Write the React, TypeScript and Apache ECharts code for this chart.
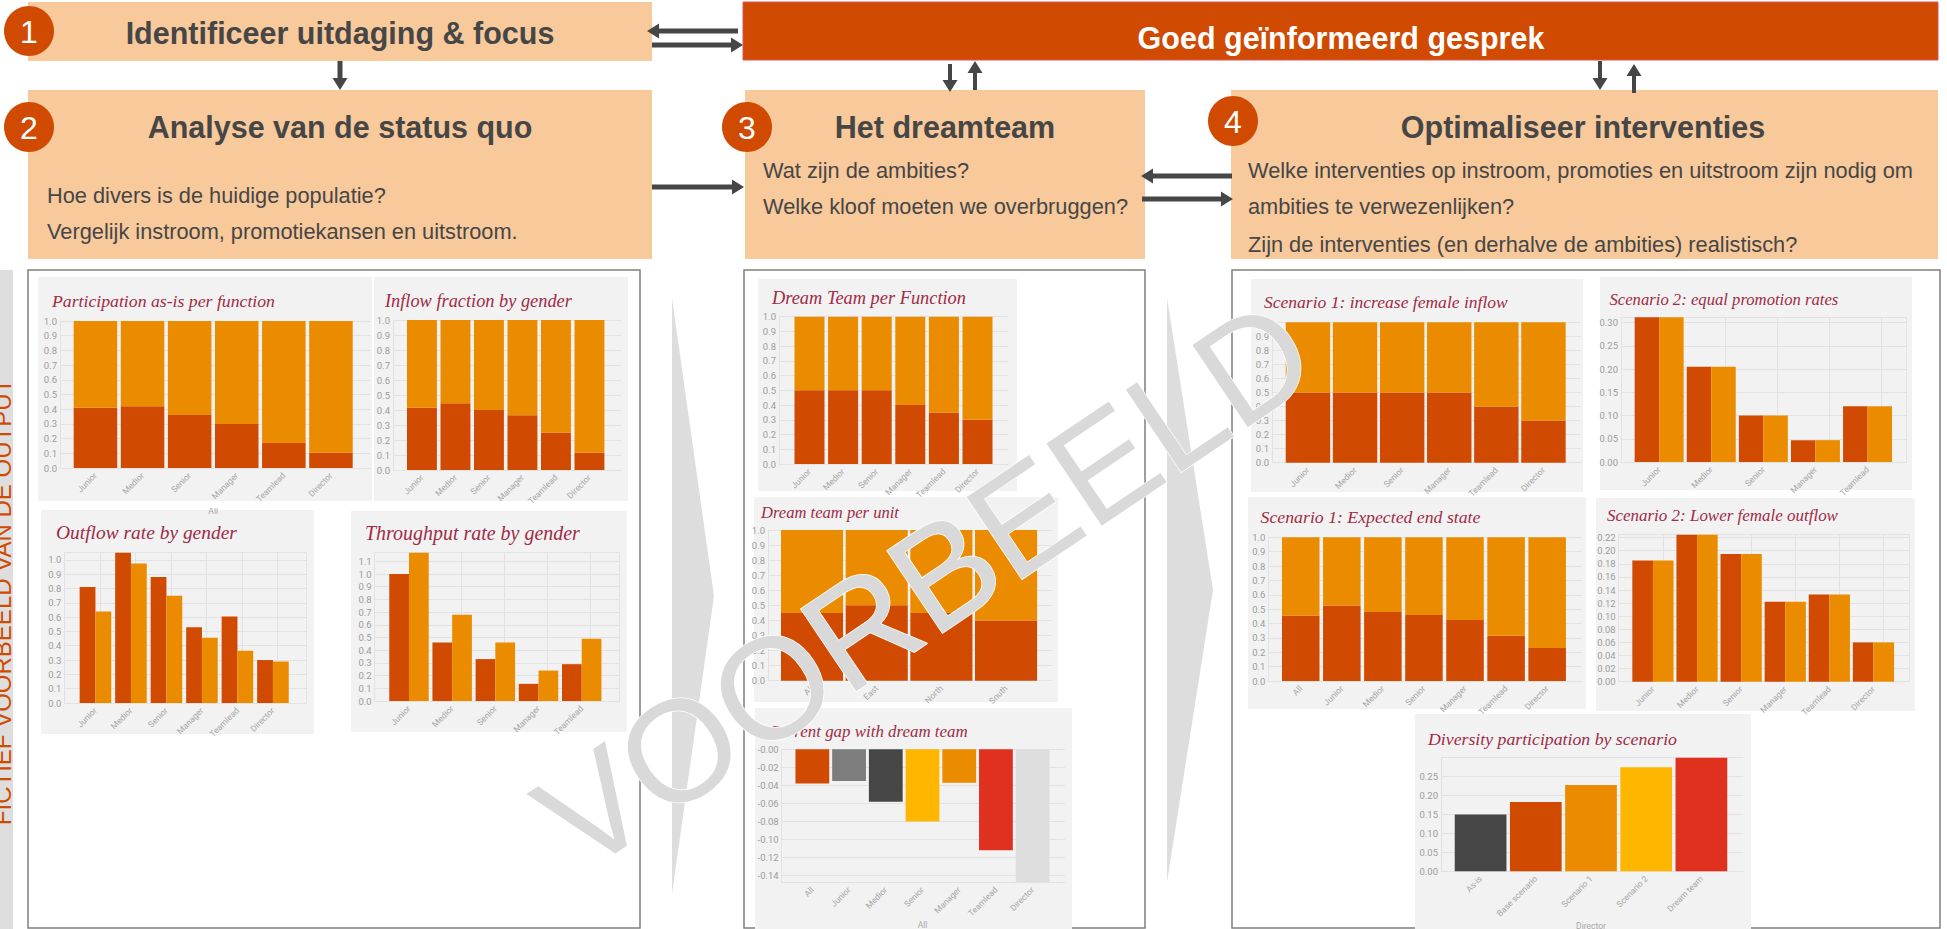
import React, { useEffect, useRef } from "react";
import * as echarts from "echarts";

const DARK = "#D04A02";
const ORANGE = "#EB8C00";
const YELLOW = "#FFB600";
const RED = "#E0301E";
const GREY = "#464646";
const MID = "#7D7D7D";
const LIGHT = "#DEDEDE";
const PEACH = "#F8C99B";
const PANEL = "#F2F2F2";
const ROSE = "#A02B45";

const functions6 = ["Junior", "Medior", "Senior", "Manager", "Teamlead", "Director"];
const functions5 = ["Junior", "Medior", "Senior", "Manager", "Teamlead"];
const functionsAll = ["All", "Junior", "Medior", "Senior", "Manager", "Teamlead", "Director"];
const units = ["All", "East", "North", "South"];
const scenarios = ["As-is", "Base scenario", "Scenario 1", "Scenario 2", "Dream team"];

const participationF = [0.41, 0.42, 0.36, 0.3, 0.17, 0.105];
const participationM = [0.59, 0.58, 0.64, 0.7, 0.83, 0.895];
const inflowF = [0.415, 0.445, 0.4, 0.365, 0.25, 0.115];
const inflowM = [0.585, 0.555, 0.6, 0.635, 0.75, 0.885];
const outflowF = [0.81, 1.05, 0.88, 0.53, 0.605, 0.3];
const outflowM = [0.64, 0.975, 0.75, 0.455, 0.365, 0.29];
const throughputF = [1.0, 0.46, 0.33, 0.135, 0.29];
const throughputM = [1.168, 0.68, 0.46, 0.24, 0.49];
const dreamFunctionF = [0.5, 0.5, 0.5, 0.4, 0.35, 0.3];
const dreamFunctionM = [0.5, 0.5, 0.5, 0.6, 0.65, 0.7];
const dreamUnitF = [0.45, 0.5, 0.45, 0.4];
const dreamUnitM = [0.55, 0.5, 0.55, 0.6];
const gapValues = [-0.038, -0.035, -0.058, -0.08, -0.037, -0.112, -0.1474];
const inflowScenarioF = [0.5, 0.5, 0.5, 0.5, 0.4, 0.3];
const inflowScenarioM = [0.5, 0.5, 0.5, 0.5, 0.6, 0.7];
const promotionF = [0.3115, 0.205, 0.1, 0.047, 0.12];
const promotionM = [0.3115, 0.205, 0.1, 0.047, 0.12];
const endStateF = [0.455, 0.525, 0.48, 0.46, 0.425, 0.315, 0.23];
const endStateM = [0.545, 0.475, 0.52, 0.54, 0.575, 0.685, 0.77];
const lowerOutflowF = [0.185, 0.2245, 0.195, 0.122, 0.133, 0.06];
const lowerOutflowM = [0.185, 0.2245, 0.195, 0.122, 0.133, 0.06];
const diversityValues = [0.15, 0.183, 0.228, 0.275, 0.3];

const gapColors = [DARK, MID, GREY, YELLOW, ORANGE, RED, LIGHT];
const diversityColors = [GREY, DARK, ORANGE, YELLOW, RED];

const SANS = '"Liberation Sans", Arial, sans-serif';
const SERIF = '"Liberation Serif", Georgia, serif';
const AXISFONT = "Roboto, sans-serif";

function fit(text: string, target: number, font: string) {
  const ctx = document.createElement("canvas").getContext("2d")!;
  ctx.font = font.replace("SIZE", "100px");
  return (100 * target) / ctx.measureText(text).width;
}

type Panel = {
  bg: number[];
  title: string;
  tx: number;
  ty: number;
  tw: number;
  grid: number[];
  band: number[];
  cats: string[];
  mode: "stack" | "group" | "single";
  a: number[];
  b?: number[];
  colors?: string[];
  min?: number;
  max: number;
  interval?: number;
  digits: number;
  gap: string;
  vStep?: number;
  name?: string;
  nameGap?: number;
  hideMax?: boolean;
  labelFmt?: (v: number) => string;
};

const panels: Panel[] = [
  { bg: [38, 277, 372, 501], title: "Participation as-is per function", tx: 52, ty: 303, tw: 223, grid: [60, 321, 370, 468], band: [71.9, 354.5], cats: functions6, mode: "stack", a: participationF, b: participationM, max: 1, interval: 0.1, digits: 1, gap: "7.6%", name: "All", nameGap: 24 },
  { bg: [374, 277, 628, 501], title: "Inflow fraction by gender", tx: 385, ty: 303, tw: 187, grid: [393, 320, 621, 470], band: [405.2, 606.2], cats: functions6, mode: "stack", a: inflowF, b: inflowM, max: 1, interval: 0.1, digits: 1, gap: "10.7%" },
  { bg: [41, 510, 314, 734], title: "Outflow rate by gender", tx: 56, ty: 535, tw: 181, grid: [64.4, 552.7, 306, 703], band: [77.7, 290.7], cats: functions6, mode: "group", a: outflowF, b: outflowM, max: 1.05, interval: 0.1, digits: 1, gap: "11%", vStep: 35.5, hideMax: true },
  { bg: [351, 511, 627, 732], title: "Throughput rate by gender", tx: 365, ty: 535, tw: 215, grid: [374.6, 552.7, 619.5, 701], band: [387.4, 603.3], cats: functions5, mode: "group", a: throughputF, b: throughputM, max: 1.168, interval: 0.1, digits: 1, gap: "8.6%", vStep: 43.1, hideMax: true },

  { bg: [758, 279, 1017, 491], title: "Dream Team per Function", tx: 772, ty: 300, tw: 194, grid: [779, 316.7, 1008, 464], band: [792.7, 994.3], cats: functions6, mode: "stack", a: dreamFunctionF, b: dreamFunctionM, max: 1, interval: 0.1, digits: 1, gap: "10.7%" },
  { bg: [754, 497, 1058, 702], title: "Dream team per unit", tx: 761, ty: 514, tw: 138, grid: [768, 530, 1052, 680.7], band: [779.7, 1038.4], cats: units, mode: "stack", a: dreamUnitF, b: dreamUnitM, max: 1, interval: 0.1, digits: 1, gap: "4%" },
  { bg: [755, 708, 1072, 929], title: "Current gap with dream team", tx: 768, ty: 733, tw: 200, grid: [781.7, 749.3, 1065, 882.3], band: [794, 1051], cats: functionsAll, mode: "single", a: gapValues, colors: gapColors, min: -0.1474, max: 0, digits: 2, gap: "8%", name: "All", nameGap: 24, labelFmt: (v) => (v === 0 ? "-0.00" : v.toFixed(2)) },

  { bg: [1251, 279, 1583, 492], title: "Scenario 1: increase female inflow", tx: 1264, ty: 304, tw: 244, grid: [1272, 322.3, 1581, 462.7], band: [1284.4, 1567], cats: functions6, mode: "stack", a: inflowScenarioF, b: inflowScenarioM, max: 1, interval: 0.1, digits: 1, gap: "5.7%" },
  { bg: [1600, 277, 1912, 490], title: "Scenario 2: equal promotion rates", tx: 1609.5, ty: 301, tw: 229, grid: [1621, 317.3, 1906.7, 462], band: [1633.1, 1893.6], cats: functions5, mode: "group", a: promotionF, b: promotionM, max: 0.3115, interval: 0.05, digits: 2, gap: "6%", vStep: 52.1, hideMax: true },
  { bg: [1248, 497, 1586, 709], title: "Scenario 1: Expected end state", tx: 1260.6, ty: 519, tw: 220, grid: [1268.4, 537.3, 1582, 681], band: [1280.2, 1567.7], cats: functionsAll, mode: "stack", a: endStateF, b: endStateM, max: 1, interval: 0.1, digits: 1, gap: "8.6%" },
  { bg: [1596, 498, 1915, 711], title: "Scenario 2: Lower female outflow", tx: 1607, ty: 518, tw: 231, grid: [1618.7, 534.7, 1909.5, 681.7], band: [1630.9, 1895.5], cats: functions6, mode: "group", a: lowerOutflowF, b: lowerOutflowM, max: 0.2245, interval: 0.02, digits: 2, gap: "6.5%", vStep: 44.1, hideMax: true },
  { bg: [1415, 714, 1751, 929], title: "Diversity participation by scenario", tx: 1428, ty: 741, tw: 249, grid: [1441, 757.7, 1743.3, 871.3], band: [1453, 1729], cats: scenarios, mode: "single", a: diversityValues, colors: diversityColors, max: 0.3, interval: 0.05, digits: 2, gap: "6.3%", name: "Director", nameGap: 40, hideMax: true },
];

function arrow(x1: number, y1: number, x2: number, y2: number, shaft = 5, head = 15, len = 12) {
  const d = Math.hypot(x2 - x1, y2 - y1);
  const ux = (x2 - x1) / d;
  const uy = (y2 - y1) / d;
  const nx = -uy;
  const ny = ux;
  const bx = x2 - ux * len;
  const by = y2 - uy * len;
  const p = (x: number, y: number, o: number) => [x + nx * o, y + ny * o];
  return {
    type: "polygon",
    z: 5,
    shape: {
      points: [p(x1, y1, shaft / 2), p(bx, by, shaft / 2), p(bx, by, head / 2), [x2, y2], p(bx, by, -head / 2), p(bx, by, -shaft / 2), p(x1, y1, -shaft / 2)],
    },
    style: { fill: GREY },
  };
}

function rect(x0: number, y0: number, x1: number, y1: number, style: any, z = -20) {
  return { type: "rect", z, shape: { x: x0, y: y0, width: x1 - x0, height: y1 - y0 }, style };
}

function label(text: string, x: number, y: number, size: number, fill: string, weight = "normal", align = "left", z = 6) {
  return { type: "text", z, x, y, style: { text, x: 0, y: 0, fill, font: `${weight} ${size}px ${SANS}`, textAlign: align, textVerticalAlign: "middle" } };
}

function badge(n: string, cx: number, cy: number) {
  return [
    { type: "ellipse", z: 6, shape: { cx, cy, rx: 25, ry: 25 }, style: { fill: DARK } },
    label(n, cx, cy + 1, 32, "#FFFFFF", "normal", "center", 7),
  ];
}

function buildOption() {
  const grid: any[] = [];
  const xAxis: any[] = [];
  const yAxis: any[] = [];
  const series: any[] = [];
  const title: any[] = [];
  const lineStyle = { color: "#E2E2E2", width: 1 };

  panels.forEach((p, i) => {
    const bgIndex = grid.length;
    const [gl, gt, gr, gb] = p.grid;
    const common = { outerBoundsMode: "none", containLabel: false, top: gt, height: gb - gt };
    grid.push({ ...common, left: gl, width: gr - gl });
    grid.push({ ...common, left: p.band[0], width: p.band[1] - p.band[0] });

    const fmt = p.labelFmt || ((v: number) => v.toFixed(p.digits));
    const yMin = p.min ?? 0;
    const yBase: any = { type: "value", min: yMin, max: p.max };
    if (p.interval) yBase.interval = p.interval;
    else yBase.splitNumber = 7;

    yAxis.push({
      ...yBase,
      gridIndex: bgIndex,
      axisLine: { show: true, lineStyle },
      axisTick: { show: false },
      splitLine: { show: true, lineStyle },
      axisLabel: { color: "#9C9C9C", fontSize: 9.5, fontFamily: AXISFONT, margin: 3, formatter: fmt, showMaxLabel: !p.hideMax, showMinLabel: p.min == null },
    });
    const bgWidth = gr - gl;
    const vUnits = p.vStep ? bgWidth / p.vStep : 1;
    xAxis.push({
      type: "value",
      gridIndex: bgIndex,
      min: 0,
      max: vUnits,
      interval: 1,
      position: "bottom",
      axisLine: { show: true, onZero: false, lineStyle },
      axisTick: { show: false },
      axisLabel: { show: false },
      splitLine: { show: !!p.vStep, lineStyle },
    });

    yAxis.push({ ...yBase, gridIndex: bgIndex + 1, show: false });
    xAxis.push({
      type: "category",
      gridIndex: bgIndex + 1,
      data: p.cats,
      position: "bottom",
      axisLine: { show: false, onZero: false },
      axisTick: { show: false },
      splitLine: { show: false },
      name: p.name,
      nameLocation: "middle",
      nameGap: p.nameGap,
      nameTextStyle: { color: "#A8A8A8", fontSize: 8.5, fontFamily: AXISFONT },
      axisLabel: { color: "#A6A6A6", fontSize: 8.5, fontFamily: AXISFONT, rotate: 45, interval: 0, margin: 6, hideOverlap: false },
    });

    const base = { type: "bar", xAxisIndex: bgIndex + 1, yAxisIndex: bgIndex + 1, barCategoryGap: p.gap, cursor: "default", silent: true };
    if (p.mode === "stack") {
      series.push({ ...base, name: `${p.title} female`, stack: `s${i}`, data: p.a, itemStyle: { color: DARK } });
      series.push({ ...base, name: `${p.title} male`, stack: `s${i}`, data: p.b, itemStyle: { color: ORANGE } });
    } else if (p.mode === "group") {
      series.push({ ...base, name: `${p.title} female`, barGap: "0%", data: p.a, itemStyle: { color: DARK } });
      series.push({ ...base, name: `${p.title} male`, barGap: "0%", data: p.b, itemStyle: { color: ORANGE } });
    } else {
      series.push({ ...base, name: p.title, data: p.a.map((v, k) => ({ value: v, itemStyle: { color: p.colors![k] } })) });
    }

    const size = fit(p.title, p.tw, `italic SIZE ${SERIF}`);
    title.push({
      text: p.title,
      left: p.tx,
      top: p.ty - size * 0.62,
      padding: 0,
      textStyle: { color: ROSE, fontFamily: SERIF, fontStyle: "italic", fontWeight: "normal", fontSize: size },
    });
  });

  const h1 = fit("Identificeer uitdaging & focus", 429, `bold SIZE ${SANS}`);
  const body = fit("Hoe divers is de huidige populatie?", 339, `SIZE ${SANS}`);

  const graphic: any[] = [
    // peach boxes and the red banner
    rect(28, 2, 652, 61, { fill: PEACH }),
    rect(28, 90, 652, 259, { fill: PEACH }),
    rect(745, 90, 1145, 259, { fill: PEACH }),
    rect(1231, 90, 1938, 259, { fill: PEACH }),
    rect(743, 2, 1938, 60, { fill: DARK, stroke: "#D9545A", lineWidth: 1 }),

    // left strip
    rect(0, 270, 13, 929, { fill: LIGHT }),
    {
      type: "text",
      z: 6,
      x: 14,
      y: 602,
      rotation: Math.PI / 2,
      style: { text: "FICTIEF VOORBEELD VAN DE OUTPUT", x: 0, y: 0, fill: DARK, font: `normal 24px ${SANS}`, textAlign: "center", textVerticalAlign: "bottom" },
    },

    // frames
    rect(28, 270, 640, 928, { fill: "#FFFFFF", stroke: "#7F7F7F", lineWidth: 1.5 }, -30),
    rect(744, 270, 1145, 928, { fill: "#FFFFFF", stroke: "#7F7F7F", lineWidth: 1.5 }, -30),
    rect(1232, 270, 1940, 928, { fill: "#FFFFFF", stroke: "#7F7F7F", lineWidth: 1.5 }, -30),

    // chevrons
    { type: "polygon", z: -25, shape: { points: [[672, 298], [714, 596], [672, 894]] }, style: { fill: "#DDDDDD" } },
    { type: "polygon", z: -25, shape: { points: [[1167, 298], [1213, 590], [1167, 882]] }, style: { fill: "#DDDDDD" } },

    // panel backgrounds
    ...panels.map((p) => rect(p.bg[0], p.bg[1], p.bg[2], p.bg[3], { fill: PANEL }, -15)),

    // cover under the cut-off axis name of the first panel
    rect(200, 501, 230, 508, { fill: "#FFFFFF" }, 8),

    // headings and body text
    label("Identificeer uitdaging & focus", 340, 33, h1, GREY, "bold", "center"),
    label("Analyse van de status quo", 340, 127, h1, GREY, "bold", "center"),
    label("Het dreamteam", 945, 127, h1, GREY, "bold", "center"),
    label("Optimaliseer interventies", 1583, 127, h1, GREY, "bold", "center"),
    label("Goed geïnformeerd gesprek", 1341, 38, h1, "#FFFFFF", "bold", "center"),
    label("Hoe divers is de huidige populatie?", 47, 195, body, GREY),
    label("Vergelijk instroom, promotiekansen en uitstroom.", 47, 231, body, GREY),
    label("Wat zijn de ambities?", 763, 170, body, GREY),
    label("Welke kloof moeten we overbruggen?", 763, 206, body, GREY),
    label("Welke interventies op instroom, promoties en uitstroom zijn nodig om", 1248, 170, body, GREY),
    label("ambities te verwezenlijken?", 1248, 206, body, GREY),
    label("Zijn de interventies (en derhalve de ambities) realistisch?", 1248, 244, body, GREY),

    ...badge("1", 29, 31),
    ...badge("2", 29, 127),
    ...badge("3", 747, 127),
    ...badge("4", 1233, 121),

    // arrows
    arrow(738, 31, 647, 31),
    arrow(652, 45, 743, 45),
    arrow(340, 61, 340, 90),
    arrow(950, 64, 950, 92, 4),
    arrow(975, 90, 975, 61, 4),
    arrow(1600, 61, 1600, 90, 4),
    arrow(1634, 93, 1634, 64, 4),
    arrow(652, 187, 744, 187),
    arrow(1232, 176, 1141, 176),
    arrow(1142, 199, 1233, 199),

    // watermark
    {
      type: "text",
      z: 100,
      x: 925,
      y: 585,
      rotation: (34 * Math.PI) / 180,
      style: { text: "VOORBEELD", x: 0, y: 0, fill: "#D9D9D9", stroke: "#FFFFFF", lineWidth: 1.5, font: `normal 144px ${SANS}`, textAlign: "center", textVerticalAlign: "middle" },
    },
  ];

  return { animation: false, backgroundColor: "#FFFFFF", title, grid, xAxis, yAxis, series, graphic };
}

export default function App() {
  const ref = useRef<HTMLDivElement>(null);
  useEffect(() => {
    const chart = echarts.init(ref.current!, undefined, { renderer: "svg" });
    chart.setOption(buildOption() as any);
    return () => chart.dispose();
  }, []);
  return <div ref={ref} style={{ position: "absolute", left: 0, top: 0, width: 1947, height: 929 }} />;
}
